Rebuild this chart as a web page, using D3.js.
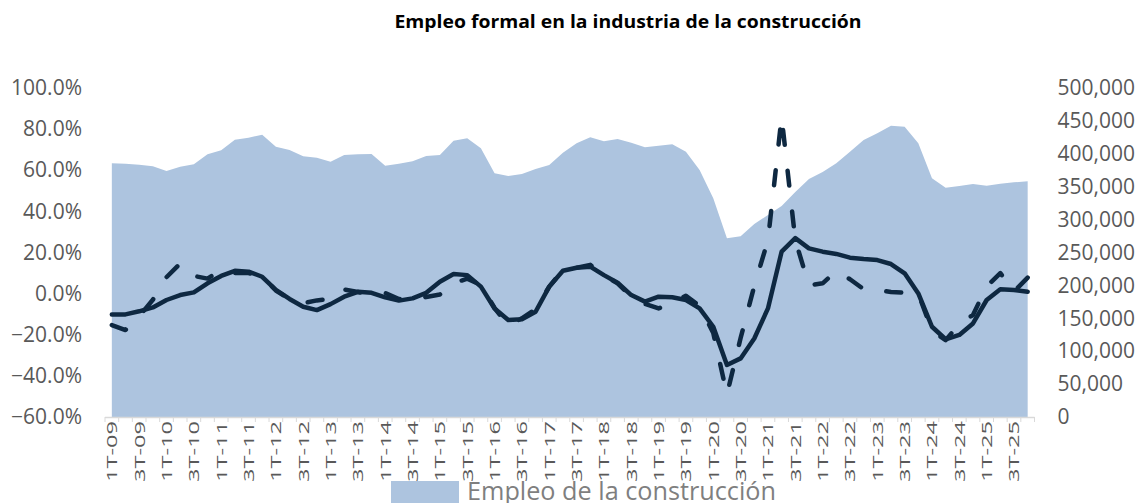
<!DOCTYPE html>
<html>
<head>
<meta charset="utf-8">
<script src="https://cdn.jsdelivr.net/npm/d3@7"></script>
<style>
  body { margin: 0; background: #fff; }
  svg { display: block; font-family: "Open Sans", "Noto Sans", sans-serif; }
</style>
</head>
<body>
<div id="chart"></div>
<script>
// categories, 1T-09 .. 4T-25
const quarters = [
  "1T-09","2T-09","3T-09","4T-09","1T-10","2T-10","3T-10","4T-10",
  "1T-11","2T-11","3T-11","4T-11","1T-12","2T-12","3T-12","4T-12",
  "1T-13","2T-13","3T-13","4T-13","1T-14","2T-14","3T-14","4T-14",
  "1T-15","2T-15","3T-15","4T-15","1T-16","2T-16","3T-16","4T-16",
  "1T-17","2T-17","3T-17","4T-17","1T-18","2T-18","3T-18","4T-18",
  "1T-19","2T-19","3T-19","4T-19","1T-20","2T-20","3T-20","4T-20",
  "1T-21","2T-21","3T-21","4T-21","1T-22","2T-22","3T-22","4T-22",
  "1T-23","2T-23","3T-23","4T-23","1T-24","2T-24","3T-24","4T-24",
  "1T-25","2T-25","3T-25","4T-25"
];

// Empleo de la construcción (eje derecho)
const empleo = [
  385600, 385000, 383500, 381000, 373900, 380400, 384000, 399200,
  405300, 421500, 424500, 429100, 410800, 405800, 396100, 394100,
  388000, 398200, 399200, 399700, 382000, 385000, 388600, 396700,
  398200, 420000, 423500, 408300, 370300, 366300, 369300, 376900,
  383000, 401700, 416000, 425100, 419000, 422500, 416900, 409800,
  412300, 414400, 403200, 375400, 332300, 271500, 274600, 293300,
  307000, 320700, 342000, 361700, 372300, 385500, 403200, 421000,
  431100, 442700, 441200, 416000, 362700, 348500, 351000, 354100,
  351500, 354600, 356700, 358200
];

// variación, línea continua (eje izquierdo, %)
const serieContinua = [
  -10.1, -10.1, -8.6, -6.7, -3.1, -0.7, 0.6, 5.0,
  8.6, 11.1, 10.7, 8.2, 1.8, -2.6, -6.4, -8.0,
  -5.1, -1.5, 0.9, 0.4, -1.8, -3.4, -2.3, 0.4,
  5.8, 9.5, 9.0, 3.4, -7.2, -12.8, -12.5, -8.8,
  3.4, 11.1, 12.6, 13.1, 9.0, 5.3, -0.7, -3.9,
  -1.5, -1.8, -3.1, -7.2, -16.1, -34.7, -31.5, -21.8,
  -7.2, 20.4, 27.0, 22.0, 20.4, 19.3, 17.5, 16.8,
  16.3, 14.4, 9.9, 0.1, -16.1, -22.2, -20.1, -14.5,
  -3.1, 2.1, 1.8, 0.9
];

// variación, línea discontinua (eje izquierdo, %)
const serieDiscontinua = [
  -15.3, -17.7, -11.0, -3.0, 8.0, 14.6, 8.6, 7.3,
  11.5, 10.0, 10.0, 8.5, 1.5, -2.6, -4.6, -3.3,
  -2.6, 2.0, 0.8, -0.5, 0.3, -2.6, -3.1, -1.6,
  -0.4, 5.0, 7.3, 4.2, -7.0, -15.5, -12.0, -7.5,
  3.4, 11.5, 12.6, 14.0, 9.0, 5.0, -1.5, -5.0,
  -7.2, -4.7, -1.0, -6.0, -19.2, -49.0, -21.6, 3.7,
  26.0, 86.0, 26.0, 4.0, 5.0, 11.0, 7.0, 2.2,
  1.7, 0.8, 0.4, 0.0, -18.0, -22.6, -14.8, -10.4,
  3.5, 10.0, 1.0, 7.8
];

const leftTicks = [-60, -40, -20, 0, 20, 40, 60, 80, 100];
const rightTicks = [0, 50000, 100000, 150000, 200000, 250000, 300000, 350000, 400000, 450000, 500000];

const titulo = "Empleo formal en la industria de la construcción";
const leyenda = "Empleo de la construcción";

const dimensions = {
  width: 1143,
  height: 503,
  plotLeft: 105,
  plotRight: 1034.5,
  plotTop: 88,
  plotBottom: 417,
};

const svg = d3.select("#chart")
  .append("svg")
  .attr("width", dimensions.width)
  .attr("height", dimensions.height);

const x = d3.scaleBand()
  .domain(quarters)
  .range([dimensions.plotLeft, dimensions.plotRight])
  .padding(0);
const cx = (d) => x(d) + x.bandwidth() / 2;

const yLeft = d3.scaleLinear().domain([-60, 100]).range([dimensions.plotBottom, dimensions.plotTop]);
const yRight = d3.scaleLinear().domain([0, 500000]).range([dimensions.plotBottom, dimensions.plotTop]);

// area
const areaGenerator = d3.area()
  .x((d, i) => cx(quarters[i]))
  .y0(yRight(0))
  .y1((d) => yRight(d));

svg.append("path")
  .attr("d", areaGenerator(empleo))
  .attr("fill", "#adc4df");

// x axis line + ticks between categories
svg.append("line")
  .attr("x1", dimensions.plotLeft)
  .attr("x2", dimensions.plotRight)
  .attr("y1", dimensions.plotBottom + 0.5)
  .attr("y2", dimensions.plotBottom + 0.5)
  .attr("stroke", "#d9d9d9")
  .attr("stroke-width", 1.5);

const tickPos = quarters.map((q) => x(q)).concat([dimensions.plotRight]);
svg.append("g")
  .selectAll("line")
  .data(tickPos)
  .join("line")
  .attr("x1", (d) => d)
  .attr("x2", (d) => d)
  .attr("y1", dimensions.plotBottom)
  .attr("y2", dimensions.plotBottom + 5)
  .attr("stroke", "#d9d9d9")
  .attr("stroke-width", 1);

const xAxisGenerator = d3.axisBottom(x)
  .tickValues(quarters.filter((d, i) => i % 2 === 0))
  .tickSize(0);

const xAxis = svg.append("g")
  .attr("transform", `translate(0,${dimensions.plotBottom})`)
  .call(xAxisGenerator);
xAxis.select(".domain").remove();
xAxis.selectAll("text")
  .attr("transform", "rotate(-90)")
  .attr("x", -4)
  .attr("y", 0)
  .attr("dy", "0.36em")
  .attr("textLength", 61)
  .attr("lengthAdjust", "spacingAndGlyphs")
  .style("text-anchor", "end")
  .style("font-size", "15px")
  .style("font-family", "'Open Sans', sans-serif")
  .attr("fill", "#595959");

// left axis
const yAxisLeft = svg.append("g")
  .attr("transform", `translate(${dimensions.plotLeft},0)`)
  .call(d3.axisLeft(yLeft).tickValues(leftTicks).tickSize(0).tickPadding(23)
    .tickFormat((d) => d3.format(".1f")(d) + "%"));
yAxisLeft.select(".domain").remove();
yAxisLeft.selectAll("text")
  .style("font-size", "21px")
  .style("font-family", "'Open Sans', sans-serif")
  .attr("fill", "#595959");

// right axis
const yAxisRight = svg.append("g")
  .attr("transform", `translate(${dimensions.plotRight},0)`)
  .call(d3.axisRight(yRight).tickValues(rightTicks).tickSize(0).tickPadding(23)
    .tickFormat(d3.format(",")));
yAxisRight.select(".domain").remove();
yAxisRight.selectAll("text")
  .style("font-size", "21px")
  .style("font-family", "'Open Sans', sans-serif")
  .attr("fill", "#595959");

// lines
const lineGenerator = d3.line()
  .x((d, i) => cx(quarters[i]))
  .y((d) => yLeft(d));

svg.append("path")
  .attr("d", lineGenerator(serieDiscontinua))
  .attr("fill", "none")
  .attr("stroke", "#0e2841")
  .attr("stroke-width", 4.5)
  .attr("stroke-linecap", "round")
  .attr("stroke-linejoin", "round")
  .style("stroke-dasharray", "15,26");

svg.append("path")
  .attr("d", lineGenerator(serieContinua))
  .attr("fill", "none")
  .attr("stroke", "#0e2841")
  .attr("stroke-width", 4.5)
  .attr("stroke-linecap", "round")
  .attr("stroke-linejoin", "round");

// title
svg.append("text")
  .attr("x", 628)
  .attr("y", 27.5)
  .attr("text-anchor", "middle")
  .attr("textLength", 467)
  .attr("lengthAdjust", "spacingAndGlyphs")
  .style("font-size", "18px")
  .style("font-weight", "bold")
  .attr("fill", "#000")
  .text(titulo);

// legend (cut by the bottom edge, as in the original)
svg.append("rect")
  .attr("x", 391)
  .attr("y", 481)
  .attr("width", 68)
  .attr("height", 24)
  .attr("fill", "#adc4df");

svg.append("text")
  .attr("x", 467)
  .attr("y", 500)
  .attr("textLength", 309)
  .attr("lengthAdjust", "spacingAndGlyphs")
  .style("font-size", "26px")
  .attr("fill", "#7f7f7f")
  .text(leyenda);
</script>
</body>
</html>
